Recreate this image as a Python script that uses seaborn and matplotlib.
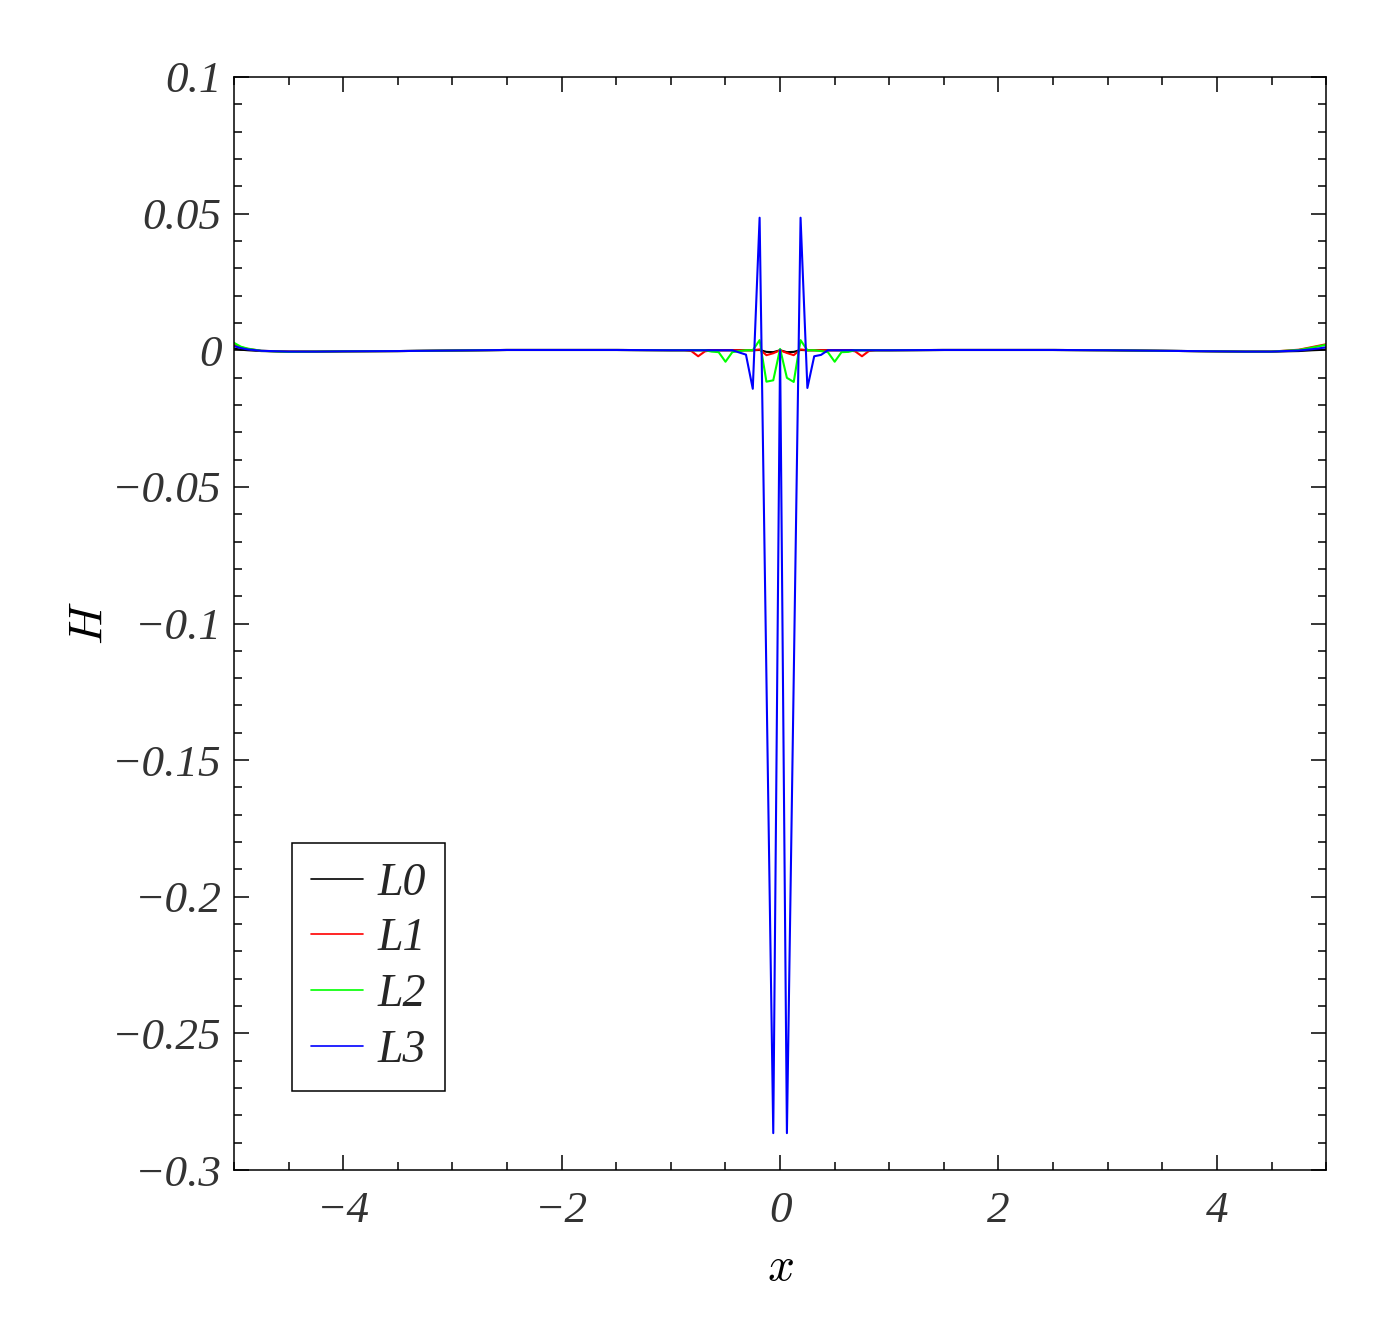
import numpy as np
import pandas as pd
import matplotlib
matplotlib.use('Agg')
import matplotlib.pyplot as plt
import seaborn as sns
from matplotlib.ticker import FixedLocator, MultipleLocator

# ---------------- data ----------------
x_vals = [-5, -4.9375, -4.875, -4.75, -4.5, -4.25, -4, -3.5, -3, -2.5, -2, -1.5, -1,
          -0.875, -0.8125, -0.75, -0.6875, -0.625, -0.5625, -0.5, -0.4375, -0.375,
          -0.3125, -0.25, -0.1875, -0.125, -0.0625, 0,
          0.0625, 0.125, 0.1875, 0.25, 0.3125, 0.375, 0.4375, 0.5, 0.5625, 0.625,
          0.6875, 0.75, 0.8125, 0.875, 1, 1.5, 2, 2.5, 3, 3.5, 4, 4.25, 4.5, 4.75,
          4.875, 4.9375, 5]

L0 = [0.0006, 0.0002, 0.0, -0.0003, -0.0005, -0.0005, -0.0004, -0.0003, -0.0001, 0.0001, 0.0001, 0.0001, 0.0,
      0.0, 0.0, 0.0, 0.0, 0.0, 0.0, 0.0, 0.0, 0.0,
      0.0, 0.0, 0.0001, -0.0006, -0.0007, 0.0,
      -0.0007, -0.0006, 0.0001, 0.0, 0.0, 0.0, 0.0, 0.0, 0.0, 0.0,
      0.0, 0.0, 0.0, 0.0, 0.0, 0.0001, 0.0001, 0.0001, 0.0, -0.0002, -0.0004, -0.0005, -0.0005, -0.0003,
      0.0, 0.0001, 0.0003]

L1 = [0.0021, 0.0011, 0.0005, -0.0002, -0.0005, -0.0005, -0.0004, -0.0003, -0.0001, 0.0001, 0.0001, 0.0001, 0.0,
      0.0, -0.0003, -0.0022, -0.0004, 0.0, 0.0, 0.0, 0.0, 0.0,
      0.0, 0.0, 0.0003, -0.0018, -0.0011, 0.0,
      -0.0010, -0.0018, 0.0003, 0.0, 0.0, 0.0, 0.0, 0.0, 0.0, 0.0,
      -0.0004, -0.0022, -0.0003, 0.0, 0.0, 0.0001, 0.0001, 0.0001, 0.0, -0.0002, -0.0004, -0.0005, -0.0005, 0.0002,
      0.0012, 0.0017, 0.0022]

L2 = [0.0027, 0.0013, 0.0006, -0.0002, -0.0006, -0.0005, -0.0004, -0.0003, -0.0001, 0.0001, 0.0001, 0.0001, 0.0,
      0.0, 0.0, 0.0, 0.0, -0.0005, -0.0007, -0.0042, -0.0007, -0.0003,
      0.0, 0.0, 0.0037, -0.0115, -0.0110, 0.0005,
      -0.0101, -0.0116, 0.0037, 0.0, 0.0, -0.0003, -0.0007, -0.0042, -0.0007, -0.0006,
      0.0, 0.0, 0.0, 0.0, 0.0, 0.0001, 0.0001, 0.0001, 0.0, -0.0002, -0.0004, -0.0005, -0.0005, 0.0001,
      0.0010, 0.0015, 0.0020]

L3 = [0.0015, 0.0008, 0.0003, -0.0002, -0.0005, -0.0005, -0.0004, -0.0003, -0.0001, 0.0001, 0.0001, 0.0001, 0.0,
      0.0, 0.0, 0.0, 0.0, 0.0, 0.0, 0.0, 0.0, -0.0008,
      -0.0016, -0.0141, 0.0485, -0.1200, -0.2865, 0.0,
      -0.2865, -0.1200, 0.0485, -0.0138, -0.0022, -0.0017, 0.0, 0.0, 0.0, 0.0,
      0.0, 0.0, 0.0, 0.0, 0.0, 0.0001, 0.0001, 0.0001, 0.0, -0.0002, -0.0004, -0.0005, -0.0005, -0.0001,
      0.0004, 0.0007, 0.0011]

series_names = ['L0', 'L1', 'L2', 'L3']
series_colors = ['#000000', '#ff0000', '#00ff00', '#0000ff']

x_ticks = [-4, -2, 0, 2, 4]
x_tick_labels = ['\u22124', '\u22122', '0', '2', '4']
y_ticks = [0.1, 0.05, 0, -0.05, -0.1, -0.15, -0.2, -0.25, -0.3]
y_tick_labels = ['0.1', '0.05', '0', '\u22120.05', '\u22120.1', '\u22120.15', '\u22120.2', '\u22120.25', '\u22120.3']

# ---------------- build table ----------------
frames = []
for name, vals in zip(series_names, [L0, L1, L2, L3]):
    frames.append(pd.DataFrame({'x': x_vals, 'H': vals, 'series': name}))
df = pd.concat(frames, ignore_index=True)

# ---------------- style ----------------
sns.set_theme(style='white')
plt.rcParams['mathtext.fontset'] = 'cm'
plt.rcParams['font.family'] = ['Liberation Serif', 'DejaVu Serif']
plt.rcParams['axes.edgecolor'] = 'black'
plt.rcParams['axes.linewidth'] = 1.1

fig = plt.figure(figsize=(13.94, 13.32), dpi=100)
ax = fig.add_axes([0.1679, 0.1216, 0.7834, 0.8206])

sns.lineplot(data=df, x='x', y='H', hue='series', hue_order=series_names,
             palette=dict(zip(series_names, series_colors)), sort=False,
             estimator=None, linewidth=1.5, ax=ax, legend=True)

ax.set_xlim(-5, 5)
ax.set_ylim(-0.3, 0.1)

ax.xaxis.set_major_locator(FixedLocator(x_ticks))
ax.yaxis.set_major_locator(FixedLocator(y_ticks))
ax.xaxis.set_minor_locator(MultipleLocator(0.5))
ax.yaxis.set_minor_locator(MultipleLocator(0.01))

tick_font = dict(family='Liberation Serif', style='italic', size=32.5, color='#333333')
ax.set_xticklabels(x_tick_labels, fontdict=tick_font)
ax.set_yticklabels(y_tick_labels, fontdict=tick_font)

ax.tick_params(which='both', direction='in', top=True, right=True, bottom=True, left=True,
               color='black', width=1.1)
ax.tick_params(which='major', length=11)
ax.tick_params(which='minor', length=6)
ax.tick_params(axis='x', which='major', pad=15)
ax.tick_params(axis='y', which='major', pad=9)

ax.set_xlabel('$x$', fontsize=34, color='black', labelpad=12)
ax.set_ylabel('$H$', fontsize=34, color='black', labelpad=0)

for sp in ax.spines.values():
    sp.set_visible(True)
    sp.set_color('black')
    sp.set_linewidth(1.1)

leg = ax.legend(loc='lower left', bbox_to_anchor=(0.053, 0.072), borderaxespad=0,
                prop=dict(family='Liberation Serif', style='italic', size=33),
                frameon=True, fancybox=False, framealpha=1, edgecolor='black',
                handlelength=1.14, handletextpad=0.3, labelspacing=0.29,
                borderpad=0.42, title=None)
leg.get_frame().set_linewidth(1.1)
for line in leg.get_lines():
    line.set_linewidth(1.2)

fig.savefig('out.png', dpi=100, facecolor='white')
